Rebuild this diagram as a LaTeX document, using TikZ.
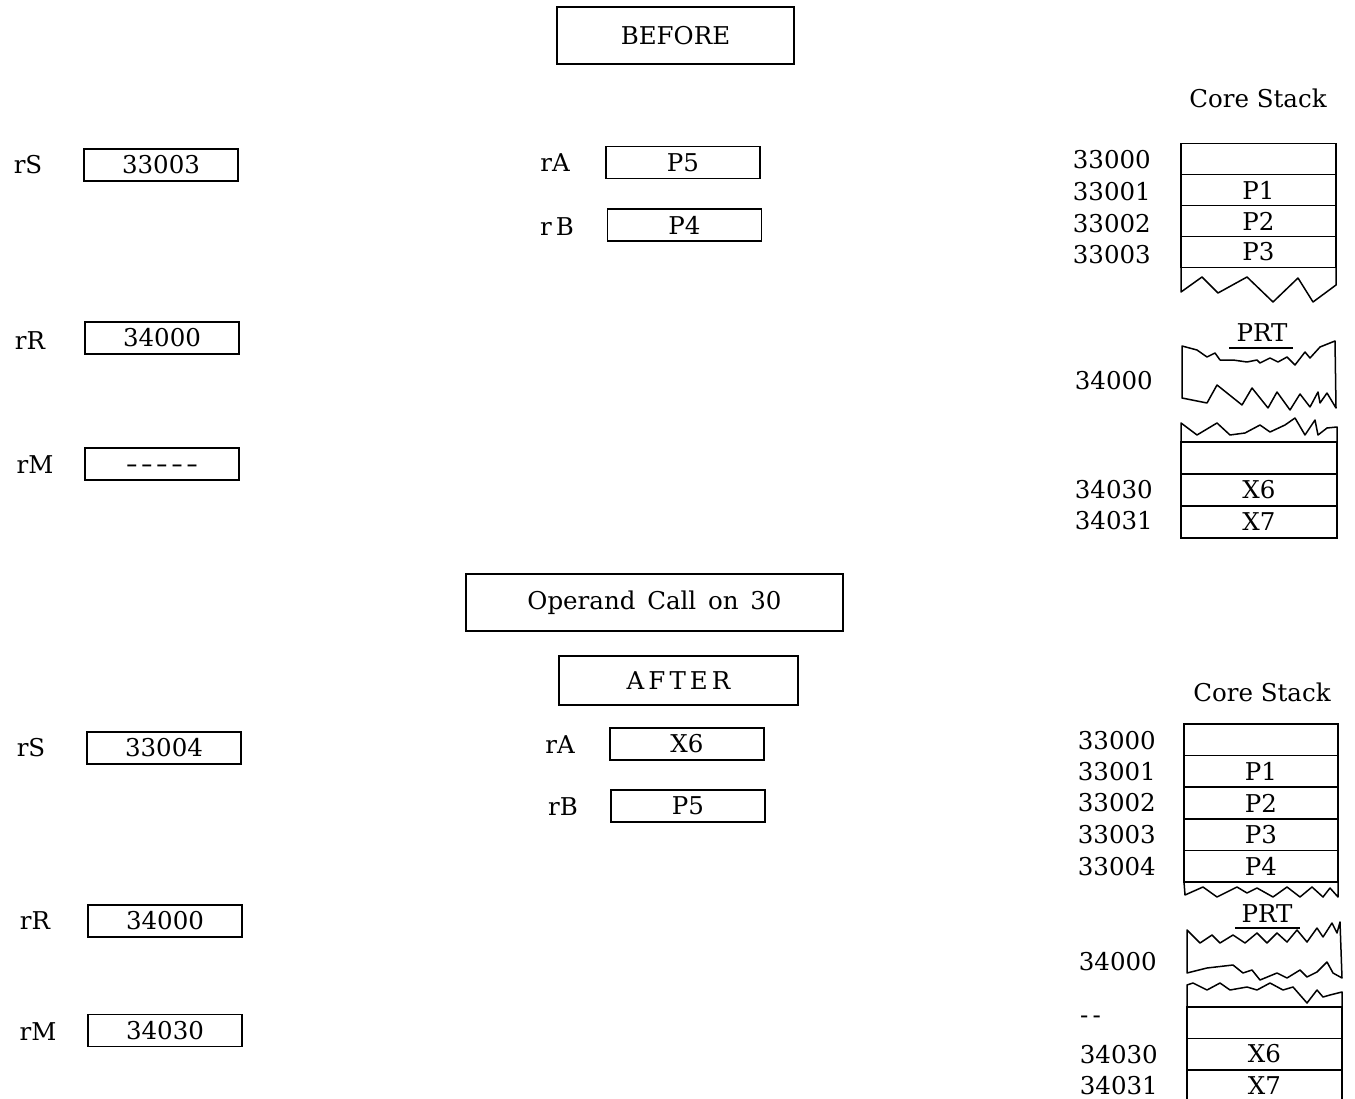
\documentclass[tikz,border=0pt]{standalone}
\usepackage{fontspec}
\usepackage{graphicx}
\setmainfont{DejaVu Serif}
\newcommand{\myfs}{\fontsize{24.5}{30}\selectfont}
\newcommand{\dsh}{\scalebox{1.45}[1]{-}}
\begin{document}
\begin{tikzpicture}[x=1pt,y=-1pt,
  txt/.style={font=\myfs, inner sep=0pt},
  regbox/.style={draw, line width=1.5pt, minimum width=154pt, minimum height=32pt, inner sep=0pt, font=\myfs},
  titlebox/.style={draw, line width=1.5pt, inner sep=0pt, font=\myfs},
  cell/.style={draw, line width=1.5pt, inner sep=0pt, font=\myfs},
  jag/.style={line width=1.5pt, line join=round}]
\useasboundingbox (0,0) rectangle (1355,1099);
\clip (0,0) rectangle (1355,1099);

% ---------------- BEFORE ----------------
\node[titlebox, minimum width=237pt, minimum height=57pt] (before) at (675.5,35.5) {BEFORE};
\node[txt] (cs1) at (1258,98) {Core Stack};

\node[txt] (lrS1) at (28,165) {rS};
\node[regbox] (rS1) at (161,165) {33003};
\node[txt] (lrR1) at (30,341) {rR};
\node[regbox] (rR1) at (162,338) {34000};
\node[txt] (lrM1) at (35,465) {rM};
\node[regbox] (rM1) at (162,464) {\vphantom{0}\dsh\hspace{3pt}\dsh\hspace{3pt}\dsh\hspace{3pt}\dsh\hspace{3pt}\dsh};

\node[txt] (lrA1) at (555,163) {rA};
\node[regbox] (rA1) at (683,162.5) {P5};
\node[txt] (lrB1) at (557,227) {r\,B};
\node[regbox] (rB1) at (684.5,225) {P4};

% core stack (before)
\node[cell, minimum width=155pt, minimum height=31pt] (c1a) at (1258.5,159) {};
\node[cell, minimum width=155pt, minimum height=31pt] (c1b) at (1258.5,190) {P1};
\node[cell, minimum width=155pt, minimum height=31pt] (c1c) at (1258.5,221) {P2};
\node[cell, minimum width=155pt, minimum height=31pt] (c1d) at (1258.5,252) {P3};
\node[txt, anchor=east] (a1a) at (1151,160) {33000};
\node[txt, anchor=east] (a1b) at (1151,192) {33001};
\node[txt, anchor=east] (a1c) at (1151,224) {33002};
\node[txt, anchor=east] (a1d) at (1151,255) {33003};

\draw[jag] (1181,267.5) -- (1181,292) -- (1202,277) -- (1218,293) -- (1247,277) -- (1273,302) -- (1298,278) -- (1313,302) -- (1336,285) -- (1336,267.5);

\node[txt] (prt1) at (1262,333) {PRT};
\draw[line width=1.2pt] (1229,348) -- (1293,348);
\draw[jag] (1182,346) -- (1197,350) -- (1207,357) -- (1215,353) -- (1220,360) -- (1233,360) -- (1247,362) -- (1257,360) -- (1260,363) -- (1270,358) -- (1278,362) -- (1287,357) -- (1295,365) -- (1305,352) -- (1310,358) -- (1320,347) -- (1335,341)
  -- (1336,408) -- (1327,393) -- (1320,403) -- (1318,392) -- (1310,407) -- (1300,394) -- (1290,410) -- (1277,392) -- (1268,408) -- (1252,388) -- (1242,405) -- (1217,385) -- (1207,403) -- (1182,398) -- cycle;
\node[txt, anchor=east] (a1e) at (1153,381) {34000};

\draw[jag] (1181,442) -- (1181,423) -- (1197,435) -- (1217,423) -- (1230,435) -- (1245,433) -- (1260,425) -- (1270,432) -- (1285,425) -- (1295,418) -- (1305,435) -- (1315,420) -- (1318,435) -- (1327,428) -- (1337,427) -- (1337,442);
\node[cell, minimum width=156pt, minimum height=32pt] (c1e) at (1259,458) {};
\node[cell, minimum width=156pt, minimum height=32pt] (c1f) at (1259,490) {X6};
\node[cell, minimum width=156pt, minimum height=32pt] (c1g) at (1259,522) {X7};
\node[txt, anchor=east] (a1f) at (1153,490) {34030};
\node[txt, anchor=east] (a1g) at (1153,521) {34031};

% ---------------- middle ----------------
\node[titlebox, minimum width=377pt, minimum height=57pt] (op) at (654.5,602.5) {Operand\hspace{4pt} Call\hspace{4pt} on\hspace{4pt} 30};
\node[titlebox, minimum width=239pt, minimum height=49pt] (after) at (678.5,680.5) {A\,F\,T\,E\,R};

% ---------------- AFTER ----------------
\node[txt] (cs2) at (1262,692) {Core Stack};

\node[txt] (lrS2) at (31,748) {rS};
\node[regbox] (rS2) at (164,748) {33004};
\node[txt] (lrR2) at (35,921) {rR};
\node[regbox] (rR2) at (165,921) {34000};
\node[txt] (lrM2) at (38,1032) {rM};
\node[regbox] (rM2) at (165,1030.5) {34030};

\node[txt] (lrA2) at (560,745) {rA};
\node[regbox] (rA2) at (687,744) {X6};
\node[txt] (lrB2) at (563,807) {rB};
\node[regbox] (rB2) at (688,806) {P5};

\node[cell, minimum width=154pt, minimum height=31.6pt] (c2a) at (1261,739.8) {};
\node[cell, minimum width=154pt, minimum height=31.6pt] (c2b) at (1261,771.4) {P1};
\node[cell, minimum width=154pt, minimum height=31.6pt] (c2c) at (1261,803) {P2};
\node[cell, minimum width=154pt, minimum height=31.6pt] (c2d) at (1261,834.6) {P3};
\node[cell, minimum width=154pt, minimum height=31.6pt] (c2e) at (1261,866.2) {P4};
\node[txt, anchor=east] (a2a) at (1156,741) {33000};
\node[txt, anchor=east] (a2b) at (1156,772) {33001};
\node[txt, anchor=east] (a2c) at (1156,803) {33002};
\node[txt, anchor=east] (a2d) at (1156,835) {33003};
\node[txt, anchor=east] (a2e) at (1156,867) {33004};

\draw[jag] (1184,882) -- (1185,895) -- (1203,887) -- (1217,897) -- (1237,887) -- (1247,893) -- (1257,888) -- (1273,897) -- (1287,887) -- (1300,897) -- (1312,887) -- (1323,897) -- (1330,888) -- (1338,897) -- (1338,882);

\node[txt] (prt2) at (1267,914) {PRT};
\draw[line width=1.2pt] (1235,928) -- (1300,928);
\draw[jag] (1187,930) -- (1200,943) -- (1212,935) -- (1220,943) -- (1233,935) -- (1245,943) -- (1257,933) -- (1267,943) -- (1277,933) -- (1287,942) -- (1297,930) -- (1307,942) -- (1317,928) -- (1323,937) -- (1332,923) -- (1337,933) -- (1340,922)
  -- (1342,978) -- (1333,973) -- (1327,962) -- (1317,972) -- (1307,977) -- (1300,970) -- (1287,978) -- (1277,973) -- (1260,980) -- (1252,970) -- (1243,973) -- (1233,965) -- (1207,968) -- (1187,973) -- cycle;
\node[txt, anchor=east] (a2f) at (1157,962) {34000};

\draw[jag] (1187,1007) -- (1187,985) -- (1193,983) -- (1207,990) -- (1220,983) -- (1230,990) -- (1247,987) -- (1257,990) -- (1270,983) -- (1283,990) -- (1293,987) -- (1307,1003) -- (1317,990) -- (1323,997) -- (1330,995) -- (1342,992) -- (1342,1007);
\node[cell, minimum width=155pt, minimum height=31.5pt] (c2f) at (1264.5,1022.5) {};
\node[cell, minimum width=155pt, minimum height=31.5pt] (c2g) at (1264.5,1054) {X6};
\node[cell, minimum width=155pt, minimum height=31.5pt] (c2h) at (1264.5,1085.5) {X7};
\node[txt, anchor=west] (a2g) at (1080,1020) {-\,-};
\node[txt, anchor=east] (a2h) at (1158,1055) {34030};
\node[txt, anchor=east] (a2i) at (1158,1086) {34031};
\end{tikzpicture}
\end{document}
